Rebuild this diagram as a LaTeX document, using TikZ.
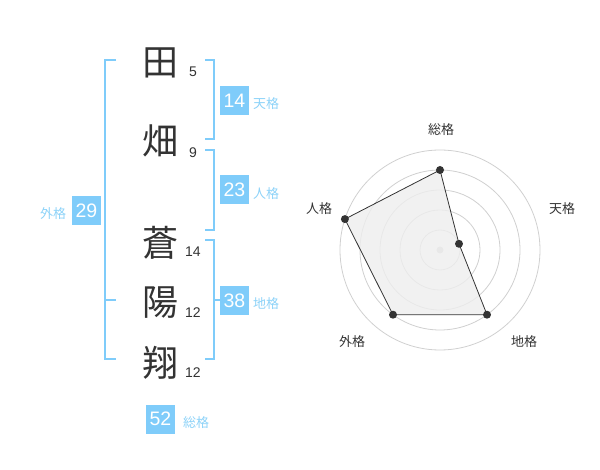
\documentclass[tikz,border=0pt]{standalone}
\usepackage{fontspec}
\setmainfont{Liberation Sans}
\newfontfamily\jp{Noto Sans CJK JP}
\definecolor{skyblue}{RGB}{127,204,250}
\definecolor{labelblue}{RGB}{140,210,248}
\definecolor{ink}{RGB}{51,51,51}
\definecolor{ringgray}{RGB}{208,208,208}
\definecolor{areagray}{RGB}{238,238,238}
\newcommand{\bx}{29pt}

\begin{document}
\begin{tikzpicture}[x=1pt, y=-1pt,
    kanji/.style={text=ink, font=\jp\fontsize{36}{36}\selectfont, inner sep=0pt},
    strokes/.style={text=ink, font=\fontsize{14}{14}\selectfont, inner sep=0pt},
    sumbox/.style={fill=skyblue, text=white, minimum size=\bx, inner sep=0pt, font=\fontsize{19.5}{19.5}\selectfont},
    sumlabel/.style={text=labelblue, font=\jp\fontsize{13}{13}\selectfont, inner sep=0pt},
    bracket/.style={draw=skyblue, line width=1.5pt},
    ring/.style={draw=ringgray, line width=0.8pt},
    axislabel/.style={text=ink, font=\jp\fontsize{13}{13}\selectfont, inner sep=0pt},
    dot/.style={fill=ink}]
    \useasboundingbox (0,0) rectangle (600,470);

    % Name
    \node[kanji] (k-1) at (160,63) {田};
    \node[kanji] (k-2) at (160,141) {畑};
    \node[kanji] (k-3) at (160,243) {蒼};
    \node[kanji] (k-4) at (160,303) {陽};
    \node[kanji] (k-5) at (160,363) {翔};

    \node[strokes] (s-1) at (193,72) {5};
    \node[strokes] (s-2) at (193,153) {9};
    \node[strokes] (s-3) at (193,252) {14};
    \node[strokes] (s-4) at (193,313) {12};
    \node[strokes] (s-5) at (193,373) {12};

    % Brackets
    \draw[bracket] (116,60) -- (105,60) -- (105,359) -- (116,359);
    \draw[bracket] (105,300) -- (116,300);
    \draw[bracket] (205,60) -- (214,60) -- (214,139) -- (205,139);
    \draw[bracket] (205,150) -- (214,150) -- (214,230) -- (205,230);
    \draw[bracket] (205,240) -- (214,240) -- (214,359) -- (205,359);
    \draw[bracket] (214,300) -- (220,300);

    % Sums
    \node[sumbox] (b-ten) at (234.5,100.5) {14};
    \node[sumlabel] (l-ten) at (266,104) {天格};
    \node[sumbox] (b-jin) at (234.5,190) {23};
    \node[sumlabel] (l-jin) at (266,194) {人格};
    \node[sumbox] (b-chi) at (234.5,300.5) {38};
    \node[sumlabel] (l-chi) at (266,304) {地格};
    \node[sumbox] (b-gai) at (86.5,210.5) {29};
    \node[sumlabel] (l-gai) at (53,214) {外格};
    \node[sumbox] (b-sou) at (160.5,419) {52};
    \node[sumlabel] (l-sou) at (196,423) {総格};

    % Radar
    \coordinate (ctr) at (440,250);
    \draw[ring] (ctr) circle[radius=20];
    \draw[ring] (ctr) circle[radius=40];
    \draw[ring] (ctr) circle[radius=60];
    \draw[ring] (ctr) circle[radius=80];
    \draw[ring] (ctr) circle[radius=100];
    \fill[ringgray] (ctr) circle[radius=3.5];

    \coordinate (p-sou) at (440,170);
    \coordinate (p-ten) at (459,243.8);
    \coordinate (p-chi) at (487,314.7);
    \coordinate (p-gai) at (393,314.7);
    \coordinate (p-jin) at (344.9,219.1);
    \draw[ink, line width=0.8pt, fill=areagray, fill opacity=0.8]
        (p-sou) -- (p-ten) -- (p-chi) -- (p-gai) -- (p-jin) -- cycle;
    \fill[dot] (p-sou) circle[radius=4];
    \fill[dot] (p-ten) circle[radius=4];
    \fill[dot] (p-chi) circle[radius=4];
    \fill[dot] (p-gai) circle[radius=4];
    \fill[dot] (p-jin) circle[radius=4];

    \node[axislabel] (a-sou) at (441,130) {総格};
    \node[axislabel] (a-ten) at (562,209) {天格};
    \node[axislabel] (a-chi) at (524,342) {地格};
    \node[axislabel] (a-gai) at (352,342) {外格};
    \node[axislabel] (a-jin) at (319,209) {人格};

\end{tikzpicture}
\end{document}
